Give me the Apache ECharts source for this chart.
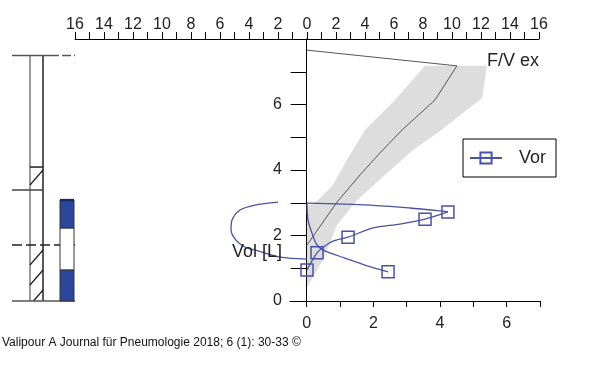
<!DOCTYPE html>
<html><head><meta charset="utf-8">
<script src="https://cdn.jsdelivr.net/npm/echarts@6/dist/echarts.min.js"></script>
<style>html,body{margin:0;padding:0;background:#fff}#c{width:600px;height:392px}</style>
</head><body><div id="c"></div>
<script>
// ---- data ----
// expiratory flow-volume curve (flow L/s on top axis, volume L on left axis)
const fvFlow = [0, 10.34, 8.83, 6.55, 5.03, 3.66, 2.07, 0];
const fvVol  = [7.66, 7.18, 6.14, 5.22, 4.52, 3.85, 3.02, 1.71];
// predicted range (gray band)
const bandRightFlow = [12.41, 12.07, 9.17, 7.31, 5.52, 3.45, 2.07, 1.10, 0.21, 0];
const bandRightVol  = [7.18, 6.20, 5.19, 4.61, 3.91, 3.08, 2.32, 1.25, 0.58, 0.43];
const bandLeftFlow  = [0, 0.76, 1.79, 2.76, 4.00, 6.07, 8.14];
const bandLeftVol   = [2.87, 3.08, 3.54, 4.31, 5.22, 6.14, 7.18];
// "Vor" curves
const vorReturnFlow = [9.72, 8.14, 6.41, 4.55, 2.83, 1.79, 1.24, 0.69, 0];
const vorReturnVol  = [2.72, 2.50, 2.35, 2.23, 1.95, 1.83, 1.68, 1.47, 0.95];
const vorReturnMarked = [true, true, false, false, true, false, false, true, true];
const vorUpperFlow = [0, 4.34, 7.10, 9.17, 9.72];
const vorUpperVol  = [2.99, 2.93, 2.84, 2.75, 2.72];
const vorDropFlow = [0, 0.07, 0.34, 0.69, 1.24, 2.62, 4.14, 5.59];
const vorDropVol  = [2.99, 2.47, 2.08, 1.71, 1.53, 1.31, 1.07, 0.89];
const vorDropMarked = [false, false, false, false, false, false, false, true];
const vorArcFlow = [-2.0, -3.59, -4.62, -5.17, -5.24, -4.90, -4.28, -3.38, -1.86, 0];
const vorArcVol  = [3.02, 2.93, 2.78, 2.47, 2.17, 1.86, 1.65, 1.53, 1.34, 1.28];
// axis ticks
const flowTicksMin = -16, flowTicksMax = 16;
const volTicks = [0, 1, 2, 3, 4, 5, 6, 7];
const volLabels = [0, 2, 4, 6];
const timeTicks = [0, 1, 2, 3, 4, 5, 6, 7];
const timeLabels = [0, 2, 4, 6];
// lung volume column (predicted) and measured bar
const predTLC = 7.5;
const predUpperHatch = [3.39, 4.09];
const predRV = 1.71;
const measuredBounds = [0, 0.95, 2.23, 3.08];

// ---- chart ----
const font = 'Liberation Sans, Arial, sans-serif';
const blue = '#4a52a3';
const zip = (a, b) => a.map((x, i) => [x, b[i]]);
const chart = echarts.init(document.getElementById('c'), null, {renderer: 'canvas'});

function bandRender(params, api) {
  const pts = zip(bandRightFlow, bandRightVol).concat(zip(bandLeftFlow, bandLeftVol)).map(p => api.coord(p));
  return {type: 'polygon', shape: {points: pts}, style: {fill: '#dddddd'}};
}

function hatch(x1, x2, yTop, yBot) {
  const s = 15 / 13, out = [];
  for (let c = 5; c < 420; c += 20) {
    let a = Math.max(0, (c - yBot) / s), b = Math.min(x2 - x1, (c - yTop) / s);
    if (b > a) out.push({type: 'line', shape: {x1: x1 + a, y1: c - s * a, x2: x1 + b, y2: c - s * b},
      style: {stroke: '#222', lineWidth: 1.3}});
  }
  return out;
}

function diagramRender(params, api) {
  const X = v => api.coord([v, 0])[0];
  const Y = v => api.coord([0, v])[1];
  const ch = [];
  const ln = (x1, y1, x2, y2, st) => ch.push({type: 'line', shape: {x1, y1, x2, y2}, style: Object.assign({stroke: '#444', lineWidth: 1.5}, st || {})});
  // column
  ln(X(30), Y(predTLC), X(30), Y(0), {stroke: '#777'});
  ln(X(43), Y(predTLC), X(43), Y(0), {stroke: '#222'});
  // TLC line
  ln(X(12), Y(predTLC), X(50), Y(predTLC), {stroke: '#555'});
  ln(X(50), Y(predTLC), X(75), Y(predTLC), {stroke: '#555', lineDash: [9, 3]});
  // upper hatched block
  ln(X(30), Y(predUpperHatch[1]), X(43), Y(predUpperHatch[1]), {stroke: '#222'});
  ln(X(12), Y(predUpperHatch[0]), X(43), Y(predUpperHatch[0]), {stroke: '#444'});
  hatch(X(30), X(43), Y(predUpperHatch[1]), Y(predUpperHatch[0])).forEach(e => ch.push(e));
  // RV dashed line and lower hatched block
  ln(X(12), Y(predRV), X(75), Y(predRV), {stroke: '#222', lineDash: [10, 4]});
  hatch(X(30), X(43), Y(predRV), Y(0)).forEach(e => ch.push(e));
  // bottom line
  ln(X(12), Y(0), X(75), Y(0), {stroke: '#555'});
  // measured bar
  const fills = ['#2b479c', '#ffffff', '#2b479c'];
  for (let i = 0; i < 3; i++) {
    const yt = Y(measuredBounds[i + 1]), yb = Y(measuredBounds[i]);
    ch.push({type: 'rect', shape: {x: X(60), y: yt, width: X(74) - X(60), height: yb - yt},
      style: {fill: fills[i], stroke: '#333', lineWidth: 1}});
  }
  ln(X(60), Y(measuredBounds[3]), X(74), Y(measuredBounds[3]), {stroke: '#1a2a60', lineWidth: 2.5});
  return {type: 'group', children: ch};
}

function marked(fl, vo, m) {
  return fl.map((f, i) => m[i] ? {value: [f, vo[i]]} : {value: [f, vo[i]], symbol: 'none'});
}

const vorStyle = {
  type: 'line', xAxisIndex: 0, yAxisIndex: 0, symbol: 'rect', symbolSize: 12,
  showSymbol: true, showAllSymbol: true, smooth: 0.3,
  lineStyle: {color: blue, width: 1.3},
  itemStyle: {color: 'rgba(0,0,0,0)', borderColor: blue, borderWidth: 1.5},
  z: 5, silent: true
};

const option = {
  animation: false,
  backgroundColor: '#fff',
  grid: [
    {left: 75, right: 61, top: 39, bottom: 91},
    {left: 290, right: 60, top: 39, bottom: 91},
    {left: 0, width: 100, top: 39, bottom: 91}
  ],
  xAxis: [
    {gridIndex: 0, type: 'value', position: 'top', min: flowTicksMin, max: flowTicksMax, interval: 1,
      axisLine: {onZero: false, lineStyle: {color: '#000', width: 1}},
      axisTick: {length: 7, lineStyle: {color: '#000'}},
      axisLabel: {formatter: v => (v % 2 === 0 ? String(Math.abs(v)) : ''), fontSize: 16, color: '#222', fontFamily: font, margin: 6},
      splitLine: {show: false}},
    {gridIndex: 1, type: 'value', position: 'bottom', min: -0.5, max: 7,
      axisLine: {onZero: false, lineStyle: {color: '#000', width: 1}},
      axisTick: {customValues: timeTicks, length: 6, lineStyle: {color: '#000'}},
      axisLabel: {customValues: timeLabels, fontSize: 16, color: '#222', fontFamily: font, margin: 15},
      splitLine: {show: false}},
    {gridIndex: 2, type: 'value', min: 0, max: 100, show: false}
  ],
  yAxis: [
    {gridIndex: 0, type: 'value', min: 0, max: 8, show: false},
    {gridIndex: 1, type: 'value', min: 0, max: 8,
      axisLine: {show: true, onZero: true, lineStyle: {color: '#000', width: 1}},
      axisTick: {show: true, customValues: volTicks, length: 16, lineStyle: {color: '#000'}},
      axisLabel: {customValues: volLabels, fontSize: 16, color: '#222', fontFamily: font, margin: 8},
      splitLine: {show: false}},
    {gridIndex: 2, type: 'value', min: 0, max: 8, show: false}
  ],
  legend: {
    data: ['Vor'], left: 463, top: 139, orient: 'horizontal', selectedMode: false,
    borderColor: '#000', borderWidth: 1, padding: [10, 10, 10, 6],
    itemWidth: 32, itemHeight: 14,
    textStyle: {fontSize: 18, color: '#222', fontFamily: font, padding: [0, 4, 0, 12]}
  },
  graphic: [
    {type: 'text', x: 487, y: 61, z: 20, style: {text: 'F/V ex', fontSize: 18, fontFamily: font, fill: '#222', verticalAlign: 'middle'}},
    {type: 'text', x: 232, y: 252, z: 20, style: {text: 'Vol [L]', fontSize: 18, fontFamily: font, fill: '#222', verticalAlign: 'middle'}},
    {type: 'text', x: 2, y: 343, z: 20, style: {text: 'Valipour A Journal für Pneumologie 2018; 6 (1): 30-33 ©', fontSize: 12, fontFamily: font, fill: '#111', verticalAlign: 'middle'}}
  ],
  series: [
    {type: 'custom', xAxisIndex: 0, yAxisIndex: 0, data: [0], renderItem: bandRender, z: 1, silent: true},
    {type: 'line', xAxisIndex: 0, yAxisIndex: 0, data: zip(fvFlow, fvVol), symbol: 'none',
      lineStyle: {color: '#555', width: 1}, z: 3, silent: true},
    Object.assign({}, vorStyle, {name: 'Vor', data: marked(vorReturnFlow, vorReturnVol, vorReturnMarked)}),
    Object.assign({}, vorStyle, {data: zip(vorUpperFlow, vorUpperVol), symbol: 'none'}),
    Object.assign({}, vorStyle, {data: marked(vorDropFlow, vorDropVol, vorDropMarked)}),
    Object.assign({}, vorStyle, {data: zip(vorArcFlow, vorArcVol), symbol: 'none'}),
    {type: 'custom', xAxisIndex: 2, yAxisIndex: 2, data: [0], renderItem: diagramRender, z: 2, silent: true}
  ]
};
chart.setOption(option);
</script>
</body></html>
